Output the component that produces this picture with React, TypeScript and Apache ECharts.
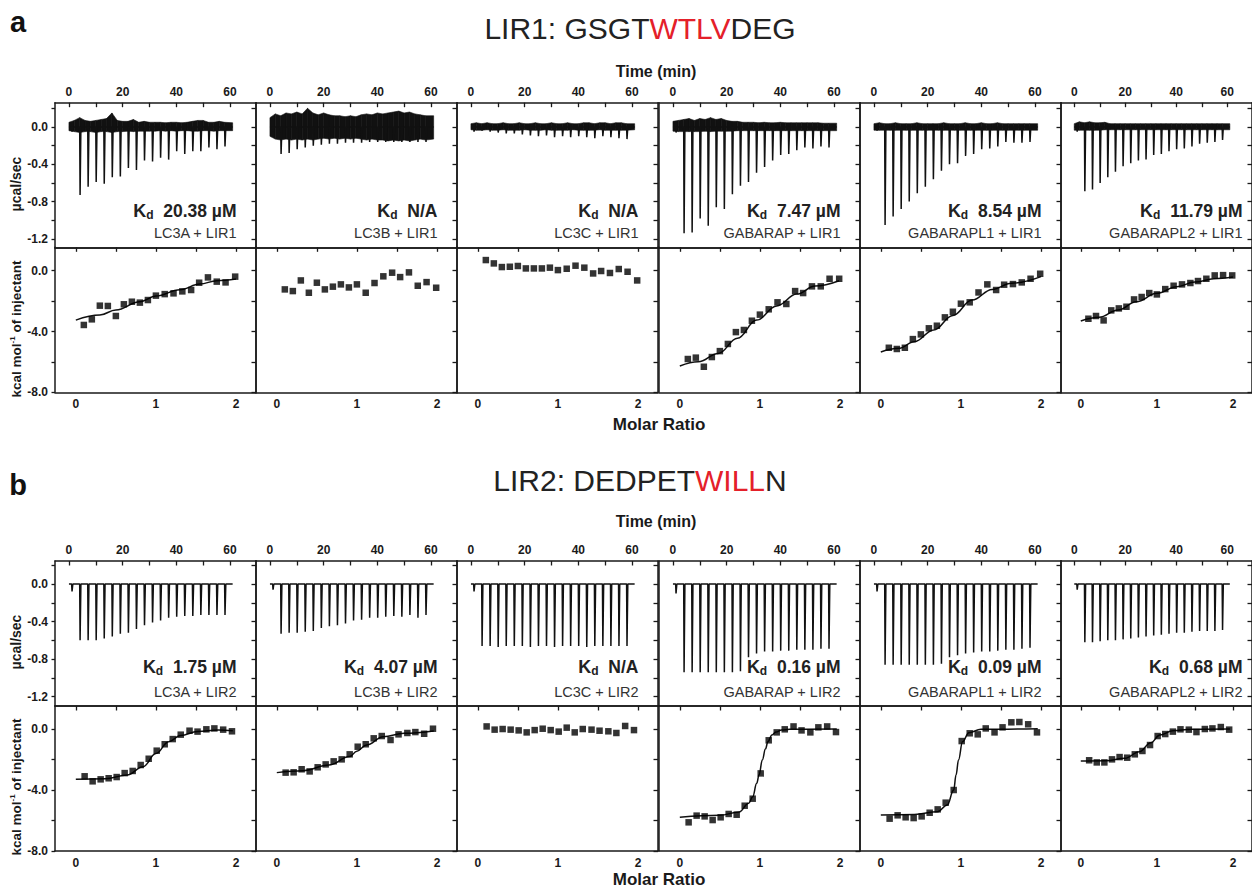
import React, { useEffect, useRef } from "react";
import * as echarts from "echarts";

// ---------------- data ----------------
const injTimes = [1, 4, 7, 10, 13, 16, 19, 22, 25, 28, 31, 34, 37, 40, 43, 46, 49, 52, 55, 58];
const noiseTimes = [0, 2, 4, 6, 8, 10, 12, 14, 16, 18, 20, 22, 24, 26, 28, 30, 32, 34, 36, 38, 40, 42, 44, 46, 48, 50, 52, 54, 56, 58, 61];
const traceEnd = 61;

const timeTicks = [0, 20, 40, 60];
const timeMinorTicks = [0, 10, 20, 30, 40, 50, 60];
const powerTicks = [0, -0.4, -0.8, -1.2];
const powerMinorTicks = [0.2, 0, -0.2, -0.4, -0.6, -0.8, -1.0, -1.2];
const ratioTicks = [0, 1, 2];
const ratioMinorTicks = [0, 0.5, 1, 1.5, 2];
const heatTicks = [0, -4, -8];
const heatMinorTicks = [0, -2, -4, -6, -8];

const ratioA = [0.10, 0.20, 0.30, 0.40, 0.50, 0.60, 0.70, 0.80, 0.90, 1.00, 1.11, 1.22, 1.33, 1.44, 1.54, 1.65, 1.76, 1.87, 1.99];
const ratioB = [0.11, 0.21, 0.31, 0.41, 0.51, 0.61, 0.71, 0.81, 0.91, 1.01, 1.11, 1.21, 1.31, 1.42, 1.52, 1.63, 1.73, 1.84, 1.95];

// ---- section a : LIR1 ----
const peakLC3A_LIR1 = [-0.05, -0.73, -0.64, -0.59, -0.61, -0.54, -0.53, -0.44, -0.46, -0.36, -0.37, -0.33, -0.35, -0.26, -0.29, -0.26, -0.26, -0.22, -0.24, -0.21];
const upLC3A_LIR1 = [0.05, 0.07, 0.1, 0.07, 0.06, 0.07, 0.08, 0.09, 0.15, 0.07, 0.06, 0.06, 0.08, 0.05, 0.06, 0.05, 0.05, 0.05, 0.045, 0.05, 0.05, 0.045, 0.05, 0.06, 0.07, 0.07, 0.05, 0.05, 0.06, 0.05, 0.045];
const loLC3A_LIR1 = [-0.04, -0.05, -0.06, -0.05, -0.05, -0.06, -0.05, -0.05, -0.06, -0.05, -0.05, -0.045, -0.05, -0.045, -0.045, -0.045, -0.045, -0.04, -0.045, -0.04, -0.045, -0.04, -0.04, -0.045, -0.045, -0.04, -0.04, -0.045, -0.04, -0.04, -0.04];
const heatLC3A_LIR1 = [-3.57, -3.2, -2.3, -2.32, -2.98, -2.21, -2.04, -2.1, -1.93, -1.64, -1.54, -1.49, -1.36, -1.27, -0.79, -0.44, -0.72, -0.77, -0.39];
const fitLC3A_LIR1 = [[0, -3.25], [0.3, -2.92], [0.5, -2.58], [0.8, -2.04], [1.0, -1.67], [1.3, -1.25], [1.55, -0.88], [1.76, -0.66], [2.0, -0.55]];

const peakLC3B_LIR1 = [-0.05, -0.29, -0.28, -0.24, -0.22, -0.2, -0.19, -0.18, -0.18, -0.17, -0.17, -0.17, -0.16, -0.16, -0.16, -0.16, -0.16, -0.16, -0.16, -0.16];
const upLC3B_LIR1 = [0.10, 0.14, 0.12, 0.15, 0.14, 0.16, 0.14, 0.20, 0.15, 0.13, 0.15, 0.13, 0.12, 0.12, 0.11, 0.12, 0.11, 0.13, 0.14, 0.13, 0.15, 0.14, 0.15, 0.16, 0.17, 0.15, 0.16, 0.14, 0.13, 0.12, 0.12];
const loLC3B_LIR1 = [-0.10, -0.13, -0.14, -0.13, -0.14, -0.13, -0.14, -0.13, -0.14, -0.13, -0.12, -0.13, -0.12, -0.13, -0.12, -0.13, -0.12, -0.13, -0.14, -0.13, -0.14, -0.14, -0.15, -0.14, -0.15, -0.14, -0.15, -0.14, -0.13, -0.14, -0.13];
const heatLC3B_LIR1 = [-1.23, -1.34, -0.64, -1.45, -0.79, -1.23, -1.05, -0.9, -1.1, -0.9, -1.45, -0.81, -0.37, -0.13, -0.42, -0.11, -0.99, -0.75, -1.12];

const peakLC3C_LIR1 = [-0.05, -0.04, -0.05, -0.06, -0.07, -0.07, -0.08, -0.09, -0.1, -0.09, -0.11, -0.1, -0.11, -0.1, -0.11, -0.12, -0.1, -0.11, -0.12, -0.13];
const upLC3C_LIR1 = [0.035, 0.045, 0.035, 0.045, 0.035, 0.035, 0.045, 0.035, 0.035, 0.045, 0.035, 0.035, 0.045, 0.035, 0.035, 0.045, 0.035, 0.035, 0.045, 0.035, 0.035, 0.045, 0.045, 0.035, 0.045, 0.045, 0.035, 0.045, 0.045, 0.035, 0.035];
const loLC3C_LIR1 = [-0.03, -0.035, -0.035, -0.03, -0.035, -0.035, -0.03, -0.035, -0.035, -0.035, -0.03, -0.035, -0.035, -0.035, -0.03, -0.035, -0.035, -0.035, -0.035, -0.03, -0.035, -0.035, -0.035, -0.035, -0.03, -0.035, -0.035, -0.035, -0.035, -0.035, -0.03];
const heatLC3C_LIR1 = [0.70, 0.48, 0.24, 0.26, 0.31, 0.15, 0.15, 0.15, 0.20, 0.04, 0.13, 0.33, 0.20, -0.18, -0.02, -0.15, 0.11, -0.07, -0.64];

const peakGABARAP_LIR1 = [-0.06, -1.14, -1.13, -0.98, -1.06, -0.86, -0.88, -0.72, -0.63, -0.59, -0.49, -0.43, -0.36, -0.30, -0.29, -0.25, -0.22, -0.23, -0.21, -0.22];
const upGABARAP_LIR1 = [0.06, 0.07, 0.08, 0.09, 0.07, 0.09, 0.08, 0.1, 0.08, 0.09, 0.07, 0.06, 0.06, 0.05, 0.05, 0.05, 0.045, 0.05, 0.045, 0.045, 0.05, 0.045, 0.045, 0.045, 0.045, 0.045, 0.045, 0.045, 0.04, 0.04, 0.04];
const loGABARAP_LIR1 = [-0.045, -0.05, -0.05, -0.05, -0.05, -0.05, -0.045, -0.05, -0.045, -0.045, -0.045, -0.045, -0.04, -0.04, -0.04, -0.04, -0.04, -0.04, -0.04, -0.04, -0.04, -0.04, -0.04, -0.04, -0.04, -0.04, -0.04, -0.04, -0.04, -0.04, -0.04];
const heatGABARAP_LIR1 = [-5.81, -5.72, -6.32, -5.68, -5.29, -4.82, -4.04, -3.9, -3.29, -2.89, -2.54, -2.08, -2.19, -1.34, -1.47, -1.03, -1.03, -0.53, -0.53];
const fitGABARAP_LIR1 = [[0, -6.27], [0.23, -5.99], [0.48, -5.44], [0.72, -4.45], [0.96, -3.25], [1.21, -2.32], [1.46, -1.54], [1.69, -1.01], [1.99, -0.66]];

const peakGABARAPL1_LIR1 = [-0.04, -1.05, -0.96, -0.88, -0.80, -0.71, -0.64, -0.56, -0.47, -0.40, -0.39, -0.31, -0.29, -0.24, -0.23, -0.21, -0.16, -0.17, -0.17, -0.16];
const upGABARAPL1_LIR1 = [0.035, 0.045, 0.035, 0.035, 0.045, 0.035, 0.035, 0.035, 0.045, 0.035, 0.035, 0.035, 0.035, 0.045, 0.035, 0.035, 0.035, 0.045, 0.035, 0.035, 0.045, 0.035, 0.035, 0.045, 0.035, 0.035, 0.035, 0.035, 0.035, 0.035, 0.035];
const loGABARAPL1_LIR1 = [-0.035, -0.035, -0.035, -0.035, -0.035, -0.035, -0.035, -0.035, -0.035, -0.035, -0.035, -0.035, -0.035, -0.035, -0.035, -0.035, -0.035, -0.035, -0.035, -0.035, -0.035, -0.035, -0.035, -0.035, -0.035, -0.035, -0.035, -0.035, -0.035, -0.035, -0.035];
const heatGABARAPL1_LIR1 = [-5.07, -5.15, -5.07, -4.5, -4.19, -3.79, -3.62, -3.07, -2.7, -2.17, -2.08, -1.43, -0.9, -1.27, -0.92, -0.88, -0.77, -0.53, -0.2];
const fitGABARAPL1_LIR1 = [[0, -5.35], [0.22, -5.11], [0.42, -4.67], [0.66, -3.9], [0.9, -2.94], [1.14, -1.93], [1.39, -1.23], [1.63, -0.83], [2.0, -0.39]];

const peakGABARAPL2_LIR1 = [-0.05, -0.69, -0.67, -0.60, -0.54, -0.48, -0.42, -0.39, -0.36, -0.35, -0.30, -0.29, -0.26, -0.24, -0.23, -0.21, -0.18, -0.17, -0.16, -0.14];
const upGABARAPL2_LIR1 = [0.035, 0.055, 0.045, 0.055, 0.045, 0.045, 0.05, 0.035, 0.035, 0.035, 0.035, 0.035, 0.035, 0.035, 0.035, 0.035, 0.035, 0.035, 0.035, 0.035, 0.035, 0.035, 0.035, 0.035, 0.035, 0.035, 0.035, 0.035, 0.035, 0.035, 0.035];
const loGABARAPL2_LIR1 = [-0.035, -0.035, -0.035, -0.035, -0.035, -0.035, -0.03, -0.03, -0.03, -0.03, -0.03, -0.03, -0.03, -0.03, -0.03, -0.03, -0.03, -0.03, -0.03, -0.03, -0.03, -0.03, -0.03, -0.03, -0.03, -0.03, -0.03, -0.03, -0.03, -0.03, -0.03];
const heatGABARAPL2_LIR1 = [-3.16, -2.98, -3.27, -2.61, -2.48, -2.37, -1.89, -1.73, -1.47, -1.56, -1.21, -0.99, -0.9, -0.81, -0.68, -0.53, -0.31, -0.29, -0.31];
const fitGABARAPL2_LIR1 = [[0, -3.31], [0.24, -3.07], [0.49, -2.59], [0.73, -2.04], [1.0, -1.49], [1.26, -1.05], [1.5, -0.75], [1.75, -0.53], [2.0, -0.42]];

// ---- section b : LIR2 ----
const peakLC3A_LIR2 = [-0.08, -0.60, -0.60, -0.60, -0.58, -0.56, -0.53, -0.52, -0.48, -0.44, -0.41, -0.39, -0.36, -0.35, -0.34, -0.34, -0.33, -0.33, -0.33, -0.33];
const heatLC3A_LIR2 = [-3.1, -3.43, -3.3, -3.23, -3.15, -2.89, -2.75, -2.36, -1.95, -1.42, -1.0, -0.66, -0.37, -0.11, -0.17, -0.02, 0.04, -0.04, -0.15];
const fitLC3A_LIR2 = [[0, -3.3], [0.37, -3.26], [0.64, -3.02], [0.84, -2.47], [1.0, -1.6], [1.16, -0.83], [1.31, -0.42], [1.52, -0.17], [1.78, -0.07], [1.96, -0.11]];

const peakLC3B_LIR2 = [-0.06, -0.53, -0.52, -0.52, -0.51, -0.50, -0.47, -0.45, -0.44, -0.42, -0.39, -0.38, -0.36, -0.36, -0.35, -0.34, -0.35, -0.33, -0.36, -0.33];
const heatLC3B_LIR2 = [-2.86, -2.84, -2.64, -2.78, -2.51, -2.32, -2.12, -1.99, -1.66, -1.16, -1.0, -0.61, -0.46, -0.72, -0.35, -0.26, -0.2, -0.31, 0.02];
const fitLC3B_LIR2 = [[0, -2.86], [0.33, -2.73], [0.65, -2.36], [0.91, -1.81], [1.0, -1.45], [1.12, -1.05], [1.33, -0.5], [1.59, -0.28], [1.96, -0.13]];

const peakLC3C_LIR2 = [-0.08, -0.66, -0.66, -0.67, -0.66, -0.66, -0.66, -0.67, -0.66, -0.66, -0.67, -0.66, -0.66, -0.66, -0.67, -0.66, -0.66, -0.66, -0.66, -0.66];
const heatLC3C_LIR2 = [0.17, -0.04, 0.0, -0.04, -0.09, -0.22, -0.07, 0.02, -0.07, -0.17, 0.09, -0.22, 0.0, -0.04, -0.11, -0.15, -0.26, 0.2, -0.07];

const peakGABARAP_LIR2 = [-0.10, -0.94, -0.94, -0.94, -0.94, -0.94, -0.94, -0.94, -0.93, -0.78, -0.74, -0.72, -0.72, -0.71, -0.71, -0.7, -0.7, -0.7, -0.69, -0.69];
const heatGABARAP_LIR2 = [-6.12, -5.68, -5.73, -5.97, -5.79, -5.57, -5.62, -5.03, -4.57, -2.91, -0.74, -0.22, -0.02, 0.17, -0.09, -0.22, 0.11, 0.17, -0.2];
const fitGABARAP_LIR2 = [[0, -5.79], [0.5, -5.66], [0.74, -5.44], [0.86, -4.87], [0.91, -4.45], [0.96, -3.56], [0.99, -3.0], [1.03, -2.03], [1.07, -1.3], [1.1, -0.83], [1.15, -0.39], [1.2, -0.2], [1.27, -0.07], [1.37, -0.02], [1.96, 0]];

const peakGABARAPL1_LIR2 = [-0.08, -0.86, -0.86, -0.86, -0.86, -0.86, -0.86, -0.86, -0.85, -0.78, -0.76, -0.74, -0.73, -0.72, -0.72, -0.71, -0.7, -0.7, -0.69, -0.68];
const heatGABARAPL1_LIR2 = [-5.88, -5.66, -5.79, -5.84, -5.73, -5.49, -5.27, -4.83, -4.0, -0.79, -0.28, -0.35, 0.04, -0.22, 0.11, 0.44, 0.46, 0.31, -0.22];
const fitGABARAPL1_LIR2 = [[0, -5.64], [0.42, -5.6], [0.71, -5.42], [0.83, -4.98], [0.91, -4.0], [0.94, -3.0], [0.97, -2.03], [1.02, -0.83], [1.1, -0.24], [1.25, -0.02], [1.96, 0.02]];

const peakGABARAPL2_LIR2 = [-0.06, -0.62, -0.62, -0.61, -0.6, -0.6, -0.59, -0.58, -0.57, -0.56, -0.55, -0.54, -0.53, -0.52, -0.52, -0.51, -0.5, -0.5, -0.5, -0.49];
const heatGABARAPL2_LIR2 = [-2.05, -2.19, -2.19, -1.99, -1.84, -1.88, -1.66, -1.44, -1.05, -0.46, -0.33, -0.17, -0.02, -0.04, -0.2, 0.0, 0.04, 0.13, -0.04];
const fitGABARAPL2_LIR2 = [[0, -2.1], [0.33, -2.08], [0.58, -1.92], [0.77, -1.49], [0.92, -0.9], [1.04, -0.39], [1.21, -0.11], [1.45, -0.02], [1.96, 0]];

const namesA = ["LC3A + LIR1", "LC3B + LIR1", "LC3C + LIR1", "GABARAP + LIR1", "GABARAPL1 + LIR1", "GABARAPL2 + LIR1"];
const kdA = ["20.38 µM", "N/A", "N/A", "7.47 µM", "8.54 µM", "11.79 µM"];
const namesB = ["LC3A + LIR2", "LC3B + LIR2", "LC3C + LIR2", "GABARAP + LIR2", "GABARAPL1 + LIR2", "GABARAPL2 + LIR2"];
const kdB = ["1.75 µM", "4.07 µM", "N/A", "0.16 µM", "0.09 µM", "0.68 µM"];

// ---------------- layout ----------------
const FONT = '"Liberation Sans", Arial, Helvetica, sans-serif';
const COL_LEFT = [55, 256, 457, 659, 860, 1061];
const PANEL_W = 201;
const TIME_MIN = -5.2;
const TIME_MAX = 69.7;
const RATIO_MIN = -0.26;
const RATIO_MAX = 2.25;
const INK = "#1a1a1a";

const panelsA = [
  { peaks: peakLC3A_LIR1, up: upLC3A_LIR1, lo: loLC3A_LIR1, heat: heatLC3A_LIR1, fit: fitLC3A_LIR1 },
  { peaks: peakLC3B_LIR1, up: upLC3B_LIR1, lo: loLC3B_LIR1, heat: heatLC3B_LIR1, fit: null },
  { peaks: peakLC3C_LIR1, up: upLC3C_LIR1, lo: loLC3C_LIR1, heat: heatLC3C_LIR1, fit: null },
  { peaks: peakGABARAP_LIR1, up: upGABARAP_LIR1, lo: loGABARAP_LIR1, heat: heatGABARAP_LIR1, fit: fitGABARAP_LIR1 },
  { peaks: peakGABARAPL1_LIR1, up: upGABARAPL1_LIR1, lo: loGABARAPL1_LIR1, heat: heatGABARAPL1_LIR1, fit: fitGABARAPL1_LIR1 },
  { peaks: peakGABARAPL2_LIR1, up: upGABARAPL2_LIR1, lo: loGABARAPL2_LIR1, heat: heatGABARAPL2_LIR1, fit: fitGABARAPL2_LIR1 },
];
const panelsB = [
  { peaks: peakLC3A_LIR2, up: null, lo: null, heat: heatLC3A_LIR2, fit: fitLC3A_LIR2 },
  { peaks: peakLC3B_LIR2, up: null, lo: null, heat: heatLC3B_LIR2, fit: fitLC3B_LIR2 },
  { peaks: peakLC3C_LIR2, up: null, lo: null, heat: heatLC3C_LIR2, fit: null },
  { peaks: peakGABARAP_LIR2, up: null, lo: null, heat: heatGABARAP_LIR2, fit: fitGABARAP_LIR2 },
  { peaks: peakGABARAPL1_LIR2, up: null, lo: null, heat: heatGABARAPL1_LIR2, fit: fitGABARAPL1_LIR2 },
  { peaks: peakGABARAPL2_LIR2, up: null, lo: null, heat: heatGABARAPL2_LIR2, fit: fitGABARAPL2_LIR2 },
];

const SECTIONS = [
  {
    letter: "a", letterY: 22, titleY: 28, titleParts: ["LIR1: GSGT", "WTLV", "DEG"],
    timeY: 71, molarY: 424, ucalY: 184, kcalY: 329,
    topTop: 102.7, topH: 144.6, botTop: 247.3, botH: 145,
    pMin: -1.29, pMax: 0.26, hMax: 1.54, kdY: 211, nameY: 233,
    ratio: ratioA, panels: panelsA, names: namesA, kd: kdA,
  },
  {
    letter: "b", letterY: 485, titleY: 480, titleParts: ["LIR2: DEDPET", "WILL", "N"],
    timeY: 521, molarY: 879.5, ucalY: 642, kcalY: 787,
    topTop: 561, topH: 145, botTop: 706, botH: 145,
    pMin: -1.3, pMax: 0.245, hMax: 1.51, kdY: 667, nameY: 692,
    ratio: ratioB, panels: panelsB, names: namesB, kd: kdB,
  },
];

function traceData(depths: number[]) {
  const pts: number[][] = [[0, 0]];
  injTimes.forEach((t, i) => {
    pts.push([t, 0], [t + 0.15, depths[i]], [t + 0.45, 0]);
  });
  pts.push([traceEnd, 0]);
  return pts;
}

const fmt1 = (v: number) => Number(v).toFixed(1);

function buildOption() {
  const grid: any[] = [];
  const xAxis: any[] = [];
  const yAxis: any[] = [];
  const series: any[] = [];
  const graphic: any[] = [];
  const tickStyle = { color: INK, width: 1.3 };
  const labelStyle = { fontFamily: FONT, fontWeight: "bold", fontSize: 12, color: INK };
  const edge = { show: true, onZero: false, lineStyle: { color: INK, width: 1.5 } };

  SECTIONS.forEach((sec) => {
    sec.panels.forEach((p: any, c: number) => {
      const left = COL_LEFT[c];
      // ---------- top (thermogram) ----------
      const gT = grid.length;
      grid.push({ left, top: sec.topTop, width: PANEL_W, height: sec.topH, show: false });
      const xT = xAxis.length;
      xAxis.push({
        gridIndex: gT, type: "value", position: "top", min: TIME_MIN, max: TIME_MAX,
        axisLine: edge, splitLine: { show: false },
        axisTick: { show: true, inside: true, length: 4.5, customValues: timeMinorTicks, lineStyle: tickStyle },
        axisLabel: { show: true, customValues: timeTicks, margin: 5, ...labelStyle },
      });
      xAxis.push({
        gridIndex: gT, type: "value", position: "bottom", min: TIME_MIN, max: TIME_MAX,
        axisLine: edge, splitLine: { show: false },
        axisTick: { show: false }, axisLabel: { show: false },
      });
      const yT = yAxis.length;
      yAxis.push({
        gridIndex: gT, type: "value", position: "left", min: sec.pMin, max: sec.pMax,
        axisLine: edge, splitLine: { show: false },
        axisTick: { show: c === 0, inside: false, length: 3.5, customValues: powerMinorTicks, lineStyle: tickStyle },
        axisLabel: { show: c === 0, customValues: powerTicks, margin: 7, formatter: fmt1, ...labelStyle },
      });
      yAxis.push({
        gridIndex: gT, type: "value", position: "right", min: sec.pMin, max: sec.pMax,
        axisLine: edge, splitLine: { show: false },
        axisTick: { show: true, inside: true, length: 4.5, customValues: powerMinorTicks, lineStyle: tickStyle },
        axisLabel: { show: false },
      });

      if (p.up && p.lo) {
        const up = p.up as number[];
        const lo = p.lo as number[];
        series.push({
          type: "custom", xAxisIndex: xT, yAxisIndex: yT, silent: true, z: 2,
          data: noiseTimes.map((t, i) => [t, up[i], lo[i]]),
          renderItem: (params: any, api: any) => {
            const i = params.dataIndex;
            if (i >= noiseTimes.length - 1) return null;
            const a1 = api.coord([noiseTimes[i], up[i]]);
            const a2 = api.coord([noiseTimes[i + 1], up[i + 1]]);
            const b2 = api.coord([noiseTimes[i + 1], lo[i + 1]]);
            const b1 = api.coord([noiseTimes[i], lo[i]]);
            return {
              type: "polygon",
              shape: { points: [a1, a2, b2, b1] },
              style: { fill: "#111", stroke: "#111", lineWidth: 0.6 },
            };
          },
        });
      }
      series.push({
        type: "line", xAxisIndex: xT, yAxisIndex: yT, data: traceData(p.peaks),
        showSymbol: false, symbol: "none", silent: true, z: 3,
        lineStyle: { color: "#111", width: 1.5 },
      });

      // ---------- bottom (isotherm) ----------
      const gB = grid.length;
      grid.push({ left, top: sec.botTop, width: PANEL_W, height: sec.botH, show: false });
      const xB = xAxis.length;
      xAxis.push({
        gridIndex: gB, type: "value", position: "bottom", min: RATIO_MIN, max: RATIO_MAX,
        axisLine: edge, splitLine: { show: false },
        axisTick: { show: false },
        axisLabel: { show: true, customValues: ratioTicks, margin: 6, ...labelStyle },
      });
      xAxis.push({
        gridIndex: gB, type: "value", position: "top", min: RATIO_MIN, max: RATIO_MAX,
        axisLine: edge, splitLine: { show: false },
        axisTick: { show: true, inside: true, length: 4.5, customValues: ratioMinorTicks, lineStyle: tickStyle },
        axisLabel: { show: false },
      });
      const yB = yAxis.length;
      yAxis.push({
        gridIndex: gB, type: "value", position: "left", min: -8, max: sec.hMax,
        axisLine: edge, splitLine: { show: false },
        axisTick: { show: c === 0, inside: false, length: 3.5, customValues: heatMinorTicks, lineStyle: tickStyle },
        axisLabel: { show: c === 0, customValues: heatTicks, margin: 7, formatter: fmt1, ...labelStyle },
      });
      yAxis.push({
        gridIndex: gB, type: "value", position: "right", min: -8, max: sec.hMax,
        axisLine: edge, splitLine: { show: false },
        axisTick: { show: true, inside: true, length: 4.5, customValues: heatMinorTicks, lineStyle: tickStyle },
        axisLabel: { show: false },
      });
      if (p.fit) {
        series.push({
          type: "line", xAxisIndex: xB, yAxisIndex: yB, data: p.fit,
          smooth: 0.4, smoothMonotone: "x", showSymbol: false, symbol: "none", silent: true, z: 3,
          lineStyle: { color: "#111", width: 1.5 },
        });
      }
      series.push({
        type: "scatter", xAxisIndex: xB, yAxisIndex: yB,
        data: sec.ratio.map((x: number, i: number) => [x, p.heat[i]]),
        symbol: "rect", symbolSize: 6.5, silent: true, z: 4,
        itemStyle: { color: "#000" },
      });

      // ---------- annotations ----------
      const right = left + PANEL_W - 19.5;
      graphic.push({
        type: "text", x: right, y: sec.kdY, silent: true,
        style: {
          text: `{k|K}{d|d}{v|  ${sec.kd[c]}}`,
          align: "right", verticalAlign: "middle",
          rich: {
            k: { fontFamily: FONT, fontWeight: "bold", fontSize: 18, fill: "#222", color: "#222", lineHeight: 20 },
            d: { fontFamily: FONT, fontWeight: "bold", fontSize: 12, fill: "#222", color: "#222", lineHeight: 18, verticalAlign: "bottom" },
            v: { fontFamily: FONT, fontWeight: "bold", fontSize: 17.5, fill: "#222", color: "#222", lineHeight: 20 },
          },
        },
      });
      graphic.push({
        type: "text", x: right, y: sec.nameY, silent: true,
        style: {
          text: sec.names[c], fontFamily: FONT, fontSize: 14.5, fill: "#333",
          align: "right", verticalAlign: "middle",
        },
      });
    });

    // section texts
    graphic.push({
      type: "text", x: 18, y: sec.letterY, silent: true,
      style: { text: sec.letter, fontFamily: FONT, fontWeight: "bold", fontSize: 29, fill: "#111", align: "center", verticalAlign: "middle" },
    });
    graphic.push({
      type: "text", x: 640, y: sec.titleY, silent: true,
      style: {
        text: `{n|${sec.titleParts[0]}}{r|${sec.titleParts[1]}}{n|${sec.titleParts[2]}}`,
        align: "center", verticalAlign: "middle",
        rich: {
          n: { fontFamily: FONT, fontSize: 30, fill: "#222", color: "#222" },
          r: { fontFamily: FONT, fontSize: 30, fill: "#e4202a", color: "#e4202a" },
        },
      },
    });
    graphic.push({
      type: "text", x: 656, y: sec.timeY, silent: true,
      style: { text: "Time (min)", fontFamily: FONT, fontWeight: "bold", fontSize: 16, fill: INK, align: "center", verticalAlign: "middle" },
    });
    graphic.push({
      type: "text", x: 659, y: sec.molarY, silent: true,
      style: { text: "Molar Ratio", fontFamily: FONT, fontWeight: "bold", fontSize: 17, fill: INK, align: "center", verticalAlign: "middle" },
    });
    graphic.push({
      type: "text", x: 16, y: sec.ucalY, rotation: Math.PI / 2, silent: true,
      style: { text: "µcal/sec", fontFamily: FONT, fontWeight: "bold", fontSize: 14, fill: INK, align: "center", verticalAlign: "middle" },
    });
    graphic.push({
      type: "text", x: 16, y: sec.kcalY, rotation: Math.PI / 2, silent: true,
      style: {
        text: "{a|kcal mol}{s|-1}{a| of injectant}",
        align: "center", verticalAlign: "middle",
        rich: {
          a: { fontFamily: FONT, fontWeight: "bold", fontSize: 13.5, fill: INK, color: INK, lineHeight: 16 },
          s: { fontFamily: FONT, fontWeight: "bold", fontSize: 8, fill: INK, color: INK, lineHeight: 16, verticalAlign: "top" },
        },
      },
    });
  });

  return {
    animation: false,
    backgroundColor: "#fff",
    grid, xAxis, yAxis, series, graphic,
  };
}

export default function App() {
  const ref = useRef<HTMLDivElement>(null);
  useEffect(() => {
    if (!ref.current) return;
    const chart = echarts.init(ref.current, null, { renderer: "svg" });
    chart.setOption(buildOption() as any);
    return () => chart.dispose();
  }, []);
  return (
    <div
      ref={ref}
      style={{ position: "absolute", left: 0, top: 0, width: 1252, height: 889, background: "#fff" }}
    />
  );
}
